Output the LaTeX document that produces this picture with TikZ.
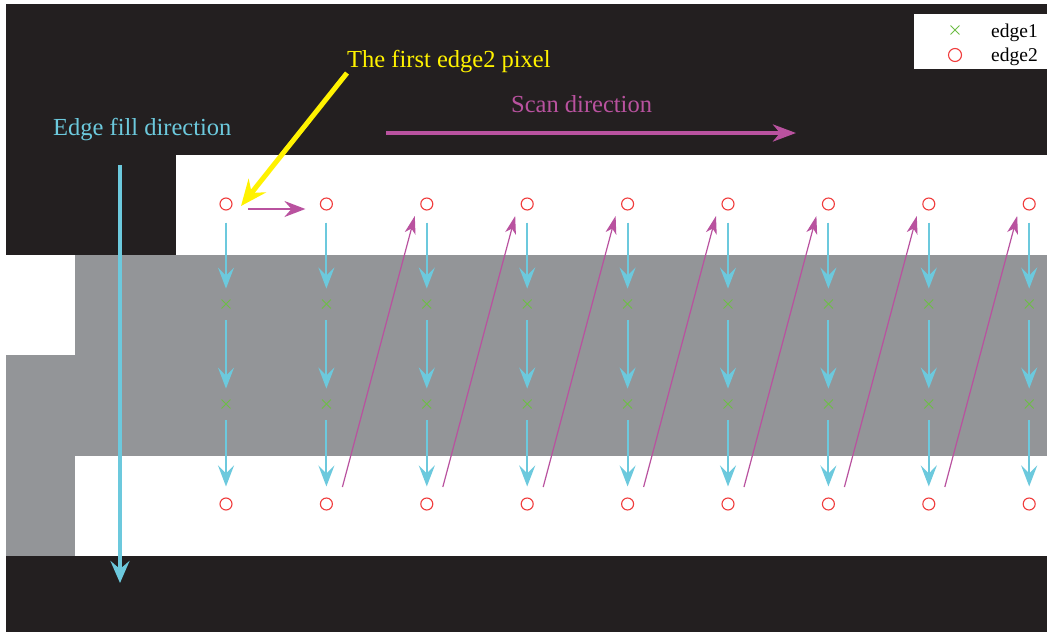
\documentclass[tikz,border=0pt]{standalone}
\usepackage{fontspec}
\setmainfont{Liberation Serif}
\usetikzlibrary{arrows.meta,calc,shapes.misc}
\definecolor{bgblack}{HTML}{231F20}
\definecolor{midgray}{HTML}{939598}
\definecolor{cyanc}{HTML}{6CC9DD}
\definecolor{magc}{HTML}{B9529F}
\definecolor{yelc}{HTML}{FFF200}
\definecolor{redc}{HTML}{F03C3C}
\definecolor{greenc}{HTML}{6DBE45}
\tikzset{
  edgetwo/.style={circle,draw=redc,line width=1.1pt,minimum size=12pt,inner sep=0pt},
  edgeone/.style={cross out,draw=greenc,line width=0.9pt,minimum size=8pt,inner sep=0pt},
  fillarr/.style={draw=cyanc,line width=2pt,-{Stealth[length=21pt,width=16pt,inset=8pt]},shorten <=12pt,shorten >=11pt},
  diagarr/.style={draw=magc,line width=1.2pt,-{Stealth[length=18pt,width=11pt,inset=5pt]}},
  lbl/.style={anchor=base west,inner sep=0pt,font=\fontsize{24.5}{28}\selectfont}
}
\begin{document}
\begin{tikzpicture}[x=1pt,y=-1pt]
\useasboundingbox (0,0) rectangle (1047,632);
% background regions
\fill[white] (0,0) rectangle (1047,632);
\fill[bgblack] (6,4) rectangle (1047,632);
\fill[white] (176,155) rectangle (1047,255);
\fill[midgray] (75,255) rectangle (1047,456);
\fill[white] (6,255) rectangle (75,355);
\fill[midgray] (6,355) rectangle (75,556);
\fill[white] (75,456) rectangle (1047,556);
% legend
\fill[white] (914,14) rectangle (1047,69);
\node[edgeone] (lg1) at (955,30) {};
\node[edgetwo,minimum size=13pt] (lg2) at (955,55) {};
\node[anchor=base west,inner sep=0pt,font=\fontsize{19.5}{22}\selectfont] (lt1) at (991,37) {edge1};
\node[anchor=base west,inner sep=0pt,font=\fontsize{19.5}{22}\selectfont] (lt2) at (991,61) {edge2};
% pixels
\foreach \i in {1,...,9}{
  \pgfmathsetmacro\xx{226+100.4*(\i-1)}
  \node[edgetwo] (t\i) at (\xx,204) {};
  \node[edgeone] (a\i) at (\xx,304) {};
  \node[edgeone] (c\i) at (\xx,404) {};
  \node[edgetwo] (b\i) at (\xx,504) {};
  \draw[fillarr] (t\i) -- (a\i);
  \draw[fillarr] (a\i) -- (c\i);
  \draw[fillarr] (c\i) -- (b\i);
}
% diagonal scan arrows
\foreach \i [evaluate=\i as \j using int(\i+1)] in {2,...,8}{
  \draw[diagarr] ($(b\i)+(16,-17)$) -- ($(t\j)+(-12,12)$);
}
% first horizontal scan step
\draw[draw=magc,line width=2pt,-{Stealth[length=21pt,width=16pt,inset=7pt]}] ($(t1)+(22,5)$) -- ($(t2)+(-21,5)$);
% labels
\node[lbl,text=cyanc] (efd) at (53,135) {Edge fill direction};
\node[lbl,text=yelc] (fep) at (347,67) {The first edge2 pixel};
\node[lbl,text=magc] (sd) at (511,112) {Scan direction};
% big arrows
\coordinate (ef1) at (120,165);
\coordinate (ef2) at (120,583);
\draw[draw=cyanc,line width=3.5pt,-{Stealth[length=22pt,width=19pt,inset=8pt]}] (ef1) -- (ef2);
\coordinate (sd1) at (386,133);
\coordinate (sd2) at (796,133);
\draw[draw=magc,line width=4pt,-{Stealth[length=23pt,width=17pt,inset=7pt]}] (sd1) -- (sd2);
\coordinate (ys) at (347,73);
\coordinate (yt) at (241,206);
\draw[draw=yelc,line width=5pt,-{Stealth[length=26pt,width=22pt,inset=9pt]}] (ys) -- (yt);
\end{tikzpicture}
\end{document}
